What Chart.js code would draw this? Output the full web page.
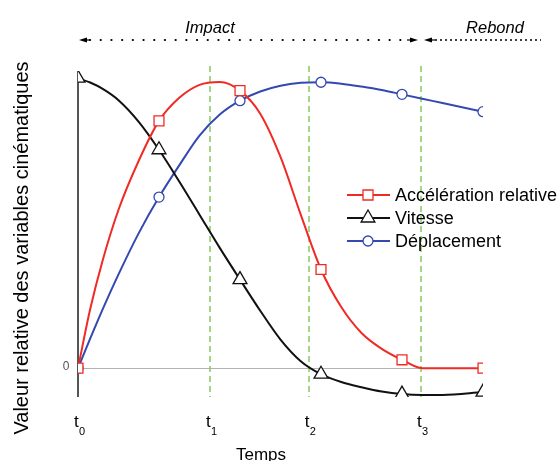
<!DOCTYPE html>
<html>
<head>
<meta charset="utf-8">
<script src="https://cdn.jsdelivr.net/npm/chart.js@4.4.1/dist/chart.umd.min.js"></script>
<style>
html, body { margin: 0; padding: 0; background: #fff; }
#wrap { width: 559px; height: 461px; }
</style>
</head>
<body>
<div id="wrap"><canvas id="chart" width="559" height="461"></canvas></div>
<script>
// temps relatif (t0 = 0, fin = 100)
const temps = [0, 3, 6, 10, 15, 20, 25, 30, 35, 40, 45, 50, 55, 60, 65, 70, 75, 80, 85, 90, 100];
const acceleration = [0, 0.204, 0.369, 0.549, 0.719, 0.857, 0.937, 0.982, 0.992, 0.962, 0.882, 0.732, 0.532, 0.342, 0.212, 0.122, 0.067, 0.029, 0, 0, 0];
const vitesse = [1.005, 0.99, 0.969, 0.929, 0.854, 0.757, 0.647, 0.532, 0.417, 0.307, 0.199, 0.099, 0.024, -0.021, -0.048, -0.066, -0.081, -0.09, -0.093, -0.093, -0.083];
const deplacement = [0, 0.102, 0.201, 0.325, 0.468, 0.593, 0.703, 0.806, 0.879, 0.927, 0.959, 0.979, 0.989, 0.991, 0.986, 0.976, 0.964, 0.949, 0.934, 0.919, 0.889];
const marqueurs = [0, 20, 40, 60, 80, 100];

const instants = [0, 32.6, 57.0, 84.7];
const instantLabels = ['0', '1', '2', '3'];
const phases = ['Impact', 'Rebond'];

const seriesNames = ['Accélération relative', 'Vitesse', 'Déplacement'];
const seriesColors = ['#f02a24', '#111111', '#3349b0'];

function points(arr) {
    return temps.map((t, i) => ({ x: t, y: arr[i] }));
}
function radii(r) {
    return temps.map(t => marqueurs.includes(t) ? r : 0);
}

const decor = {
    id: 'decor',
    beforeDatasetsDraw(chart) {
        const ctx = chart.ctx;
        const xs = chart.scales.x, ys = chart.scales.y;
        const a = chart.chartArea;
        ctx.save();
        // ligne du zéro
        ctx.strokeStyle = '#b4b4b4';
        ctx.lineWidth = 1;
        ctx.beginPath();
        ctx.moveTo(a.left, Math.round(ys.getPixelForValue(0)) + 0.5);
        ctx.lineTo(a.right, Math.round(ys.getPixelForValue(0)) + 0.5);
        ctx.stroke();
        // instants t1..t3
        ctx.strokeStyle = '#86c95e';
        ctx.lineWidth = 1.5;
        ctx.setLineDash([6, 4]);
        instants.slice(1).forEach(t => {
            const px = Math.round(xs.getPixelForValue(t));
            ctx.beginPath();
            ctx.moveTo(px, 66);
            ctx.lineTo(px, a.bottom);
            ctx.stroke();
        });
        ctx.setLineDash([]);
        // axe vertical
        ctx.strokeStyle = '#555';
        ctx.lineWidth = 2;
        ctx.beginPath();
        ctx.moveTo(a.left, a.top);
        ctx.lineTo(a.left, a.bottom);
        ctx.stroke();
        ctx.restore();
    },
    afterDatasetsDraw(chart) {
        const ctx = chart.ctx;
        const xs = chart.scales.x, ys = chart.scales.y;
        ctx.save();
        ctx.fillStyle = '#000';

        // "0"
        ctx.font = '12px "Liberation Sans", Arial, sans-serif';
        ctx.fillStyle = '#555';
        ctx.textAlign = 'center';
        ctx.textBaseline = 'middle';
        ctx.fillText('0', 66, ys.getPixelForValue(0) - 1);

        // t0..t3
        ctx.fillStyle = '#000';
        ctx.textAlign = 'left';
        ctx.textBaseline = 'alphabetic';
        instants.forEach((t, i) => {
            const px = xs.getPixelForValue(t);
            ctx.font = '17px "Liberation Sans", Arial, sans-serif';
            ctx.fillText('t', px - 4, 427);
            ctx.font = '11px "Liberation Sans", Arial, sans-serif';
            ctx.fillText(instantLabels[i], px + 1, 435);
        });

        // titres d'axes
        ctx.font = '17px "Liberation Sans", Arial, sans-serif';
        ctx.textAlign = 'center';
        ctx.fillText('Temps', 261, 460);
        ctx.save();
        ctx.translate(28, 248);
        ctx.rotate(-Math.PI / 2);
        ctx.font = '20px "Liberation Sans", Arial, sans-serif';
        ctx.fillText('Valeur relative des variables cinématiques', 0, 0);
        ctx.restore();

        // phases
        ctx.font = 'italic 16.5px "Liberation Sans", Arial, sans-serif';
        ctx.fillText(phases[0], 210, 33);
        ctx.fillText(phases[1], 495, 33);

        const yA = 40;
        ctx.lineCap = 'round';
        ctx.strokeStyle = '#000';
        ctx.lineWidth = 2.2;
        ctx.setLineDash([0.1, 10.6]);
        ctx.beginPath();
        ctx.moveTo(90, yA);
        ctx.lineTo(406, yA);
        ctx.stroke();
        ctx.lineCap = 'butt';
        ctx.lineWidth = 1.4;
        ctx.setLineDash([2, 3]);
        ctx.beginPath();
        ctx.moveTo(430, yA);
        ctx.lineTo(541, yA);
        ctx.stroke();
        ctx.setLineDash([]);
        function arrow(x, dir) {
            ctx.beginPath();
            ctx.moveTo(x, yA);
            ctx.lineTo(x - dir * 8, yA - 2.5);
            ctx.lineTo(x - dir * 8, yA + 2.5);
            ctx.closePath();
            ctx.fill();
            ctx.lineWidth = 1.2;
            ctx.beginPath();
            ctx.moveTo(x - dir * 8, yA);
            ctx.lineTo(x - dir * 11, yA);
            ctx.stroke();
        }
        arrow(79, -1);
        arrow(418, 1);
        arrow(424, -1);

        // légende
        const rows = [195, 218, 241];
        chart.data.datasets.forEach((ds, i) => {
            const y = rows[i];
            ctx.strokeStyle = ds.borderColor;
            ctx.lineWidth = 2;
            ctx.beginPath();
            ctx.moveTo(347, y);
            ctx.lineTo(390, y);
            ctx.stroke();
            ctx.fillStyle = '#fff';
            ctx.lineWidth = 1.3;
            ctx.beginPath();
            if (ds.pointStyle === 'rect') {
                ctx.rect(368 - 5, y - 5, 10, 10);
            } else if (ds.pointStyle === 'triangle') {
                ctx.moveTo(368, y - 8);
                ctx.lineTo(368 + 6.9, y + 4);
                ctx.lineTo(368 - 6.9, y + 4);
                ctx.closePath();
            } else {
                ctx.arc(368, y, 5, 0, Math.PI * 2);
            }
            ctx.fill();
            ctx.stroke();
            ctx.fillStyle = '#000';
            ctx.font = '18px "Liberation Sans", Arial, sans-serif';
            ctx.textAlign = 'left';
            ctx.textBaseline = 'middle';
            ctx.fillText(ds.label, 395, y + 1);
        });
        ctx.restore();
    }
};

function serie(i, arr, style, r) {
    return {
        label: seriesNames[i],
        data: points(arr),
        borderColor: seriesColors[i],
        backgroundColor: '#fff',
        borderWidth: 2,
        pointStyle: style,
        pointRadius: radii(r),
        pointBorderWidth: 1.3,
        pointBackgroundColor: '#fff',
        pointBorderColor: seriesColors[i],
        cubicInterpolationMode: 'monotone',
        fill: false
    };
}

new Chart(document.getElementById('chart').getContext('2d'), {
    type: 'line',
    data: {
        datasets: [
            serie(0, acceleration, 'rect', 7),
            serie(1, vitesse, 'triangle', 8),
            serie(2, deplacement, 'circle', 5)
        ]
    },
    options: {
        responsive: false,
        animation: false,
        devicePixelRatio: 1,
        layout: { padding: { left: 78, right: 76, top: 71, bottom: 64 } },
        plugins: { legend: { display: false }, tooltip: { enabled: false } },
        scales: {
            x: { type: 'linear', min: 0, max: 100, display: false },
            y: { min: -0.1, max: 1.03, display: false }
        }
    },
    plugins: [decor]
});
</script>
</body>
</html>
